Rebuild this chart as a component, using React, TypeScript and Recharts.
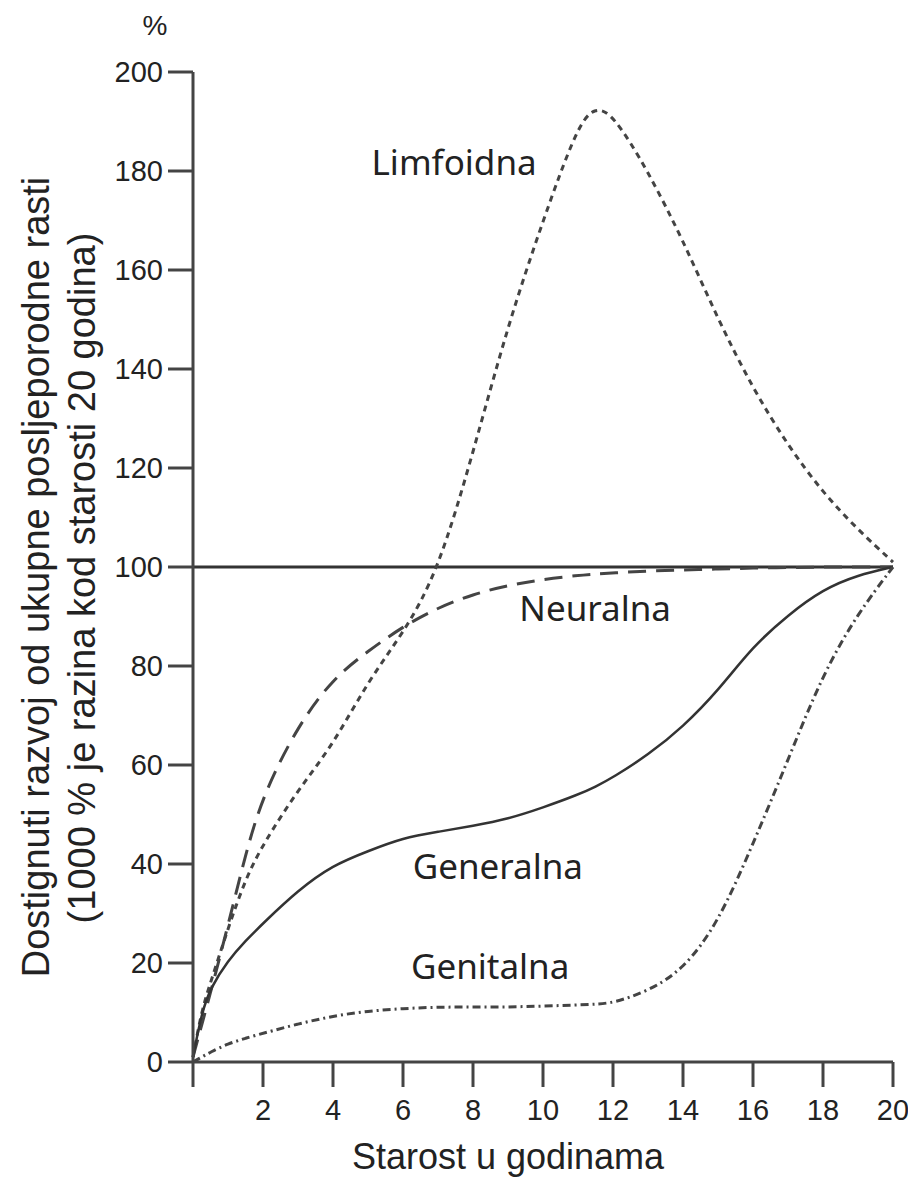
import {
  LineChart,
  Line,
  XAxis,
  YAxis,
  ReferenceLine,
  ReferenceDot,
  Customized,
} from "recharts";

// age in years
const AGES = [0, 0.25, 0.5, 1, 1.5, 2, 3, 4, 5, 6, 7, 8, 9, 10, 11, 11.5, 12, 13, 14, 15, 16, 17, 18, 19, 20];

// % of total postnatal growth
const LIMFOIDNA = [1, 10.5, 16, 27, 37, 44, 55, 64, 77, 86.5, 99, 123, 149, 170, 189.5, 193, 191.5, 180, 166, 150, 136, 124.5, 115, 107.5, 101];
const NEURALNA = [1, 7.5, 14, 27.5, 42, 54, 68, 77.5, 83, 88, 91.8, 94.5, 96.3, 97.5, 98.3, 98.6, 98.8, 99.2, 99.4, 99.6, 99.8, 99.9, 100, 100, 100];
const GENERALNA = [1, 10, 15, 20.5, 24.5, 28, 34.7, 39.8, 42.6, 45.3, 46.5, 47.7, 49.1, 51.4, 54, 55.6, 57.5, 62, 67.7, 75, 84, 90.3, 95.5, 98.4, 100];
const GENITALNA = [0, 1, 2, 3.7, 4.8, 5.8, 7.7, 9.3, 10.3, 10.8, 11.1, 11.1, 11.1, 11.3, 11.5, 11.7, 11.9, 14.3, 18.6, 28, 44, 61, 78.5, 90.7, 100];

const X_TICKS = [0, 2, 4, 6, 8, 10, 12, 14, 16, 18, 20];
const Y_TICKS = [0, 20, 40, 60, 80, 100, 120, 140, 160, 180, 200];

// curve names and where they sit on the chart (data coords)
const LABELS = ["Limfoidna", "Neuralna", "Generalna", "Genitalna"];
const LABEL_X = [7.46, 11.49, 8.71, 8.49];
const LABEL_Y = [181.8, 91.7, 39.6, 19.4];

const data = AGES.map((age, i) => ({
  age,
  limfoidna: LIMFOIDNA[i],
  neuralna: NEURALNA[i],
  generalna: GENERALNA[i],
  genitalna: GENITALNA[i],
}));

const INK = "#222";
const LINE = "#444";
const FONT = "'Liberation Sans', Arial, sans-serif";

function Titles() {
  return (
    <g fill={INK} fontFamily={FONT}>
      <text x={147} y={27} fontSize={28} textAnchor="middle">
        %
      </text>
      <text x={500} y={1161} fontSize={36} textAnchor="middle">
        Starost u godinama
      </text>
      <text transform="translate(41,569) rotate(-90)" fontSize={38} textAnchor="middle">
        Dostignuti razvoj od ukupne posljeporodne rasti
      </text>
      <text transform="translate(87,570) rotate(-90)" fontSize={38} textAnchor="middle">
        (1000 % je razina kod starosti 20 godina)
      </text>
    </g>
  );
}

export default function App() {
  return (
    <div style={{ width: 900, height: 1173, fontFamily: FONT }}>
      <LineChart
        width={900}
        height={1173}
        data={data}
        margin={{ top: 64, right: 15, left: 105, bottom: 59 }}
      >
        <XAxis
          dataKey="age"
          type="number"
          domain={[0, 20]}
          ticks={X_TICKS}
          tickFormatter={(v) => (v === 0 ? "" : String(v))}
          tickSize={25}
          tickMargin={12}
          height={60}
          axisLine={{ stroke: LINE, strokeWidth: 3 }}
          tickLine={{ stroke: LINE, strokeWidth: 3 }}
          tick={{ fontSize: 29, fill: INK, fontFamily: FONT }}
        />
        <YAxis
          type="number"
          domain={[0, 200]}
          ticks={Y_TICKS}
          tickSize={25}
          tickMargin={5}
          width={80}
          axisLine={{ stroke: LINE, strokeWidth: 3 }}
          tickLine={{ stroke: LINE, strokeWidth: 3 }}
          tick={{ fontSize: 29, fill: INK, fontFamily: FONT }}
        />
        <ReferenceLine y={100} stroke="#333" strokeWidth={3} />
        <Line
          dataKey="limfoidna"
          type="basis"
          stroke="#444"
          strokeWidth={3}
          strokeDasharray="6 5"
          dot={false}
          isAnimationActive={false}
        />
        <Line
          dataKey="neuralna"
          type="basis"
          stroke="#444"
          strokeWidth={3}
          strokeDasharray="18 10"
          dot={false}
          isAnimationActive={false}
        />
        <Line
          dataKey="generalna"
          type="basis"
          stroke="#333"
          strokeWidth={2.5}
          dot={false}
          isAnimationActive={false}
        />
        <Line
          dataKey="genitalna"
          type="basis"
          stroke="#444"
          strokeWidth={3}
          strokeDasharray="8 4 2 4"
          dot={false}
          isAnimationActive={false}
        />
        {LABELS.map((name, i) => (
          <ReferenceDot
            key={name}
            x={LABEL_X[i]}
            y={LABEL_Y[i]}
            r={0}
            shape={(p: any) => (
              <text
                x={p.cx}
                y={p.cy}
                dy="0.36em"
                textAnchor="middle"
                fontSize={35}
                fill={INK}
                fontFamily="'Noto Sans', sans-serif"
              >
                {name}
              </text>
            )}
          />
        ))}
        <Customized component={Titles} />
      </LineChart>
    </div>
  );
}
